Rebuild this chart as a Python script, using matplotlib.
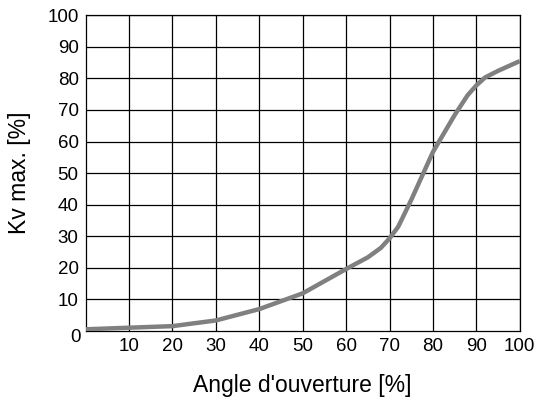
import matplotlib
matplotlib.use("Agg")
import matplotlib.pyplot as plt

plt.rcParams["font.family"] = ["Liberation Sans", "DejaVu Sans"]

# opening angle [%] vs Kv max [%]
angle = [0, 10, 20, 30, 40, 50, 60, 65, 68, 70, 72, 75, 80, 85, 88, 90, 92, 95, 100]
kv = [0.5, 1.0, 1.5, 3.3, 6.9, 11.9, 19.6, 23.3, 26.3, 29.3, 33, 41.5, 56.7, 68.4, 74.7, 77.8, 80.3, 82.4, 85.5]

xticks = [10, 20, 30, 40, 50, 60, 70, 80, 90, 100]
yticks = [10, 20, 30, 40, 50, 60, 70, 80, 90, 100]

fig = plt.figure(figsize=(5.42, 4.03), dpi=100)
ax = fig.add_axes([0.158, 0.179, 0.801, 0.783])

ax.plot(angle, kv, color="#808080", lw=3.2, solid_capstyle="butt", zorder=3)

ax.set_xlim(0, 100)
ax.set_ylim(0, 100)
ax.set_xticks(xticks)
ax.set_yticks(yticks)
ax.grid(True, color="black", lw=0.9)
ax.tick_params(length=0, labelsize=13.5, pad=5)
for s in ax.spines.values():
    s.set_linewidth(0.9)
ax.text(-0.012, -0.022, "0", transform=ax.transAxes, ha="right", va="center", fontsize=13.5)

ax.set_xlabel("Angle d'ouverture [%]", fontsize=16.5, labelpad=14)
ax.set_ylabel("Kv max. [%]", fontsize=16.5, labelpad=12)

fig.savefig("out.png", dpi=100)
